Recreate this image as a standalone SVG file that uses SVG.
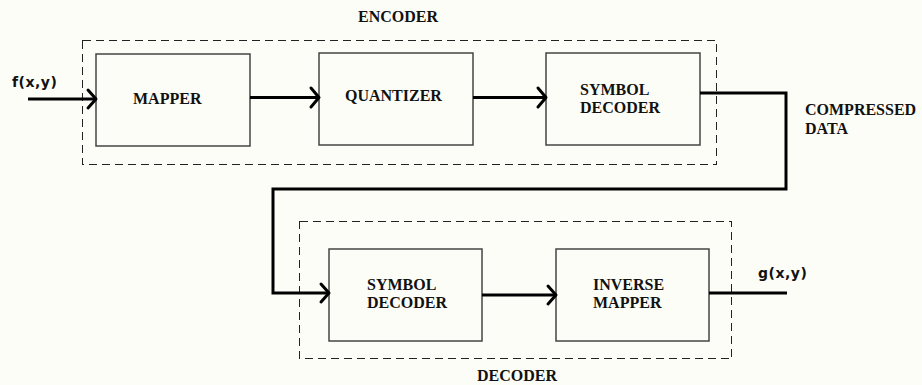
<svg xmlns="http://www.w3.org/2000/svg" width="922" height="385" viewBox="0 0 922 385">
<style>
.box{fill:none;stroke:#444;stroke-width:1.5}
.grp{fill:none;stroke:#222;stroke-width:1;stroke-dasharray:8 5;shape-rendering:crispEdges}
.wire{fill:none;stroke:#000;stroke-width:3}
.head{fill:none;stroke:#000;stroke-width:3;stroke-linecap:round;stroke-linejoin:round}
.lbl{font-family:"Liberation Serif","Times New Roman",serif;font-weight:bold;font-size:16px;fill:#111}
.sig{font-family:"DejaVu Sans",Verdana,sans-serif;font-weight:bold;font-size:14px;letter-spacing:0.5px;fill:#111}
</style>
<rect width="922" height="385" fill="#fdfdf8"/>
<g id="encoder">
<rect class="grp" x="82.5" y="40.5" width="634" height="124"/>
<text class="lbl" x="358" y="22">ENCODER</text>
</g>
<g id="decoder">
<rect class="grp" x="299.5" y="221.5" width="432" height="137"/>
<text class="lbl" x="477" y="381">DECODER</text>
</g>
<g id="mapper">
<rect class="box" x="96" y="54" width="154" height="92"/>
<text class="lbl" x="133" y="104">MAPPER</text>
</g>
<g id="quantizer">
<rect class="box" x="319" y="53" width="154" height="92"/>
<text class="lbl" x="345" y="101">QUANTIZER</text>
</g>
<g id="symbol-encoder">
<rect class="box" x="546" y="53" width="154" height="92"/>
<text class="lbl" x="580" y="95">SYMBOL</text>
<text class="lbl" x="580" y="113">DECODER</text>
</g>
<g id="symbol-decoder">
<rect class="box" x="329" y="249" width="153" height="92"/>
<text class="lbl" x="367" y="290">SYMBOL</text>
<text class="lbl" x="367" y="308">DECODER</text>
</g>
<g id="inverse-mapper">
<rect class="box" x="556" y="249" width="153" height="92"/>
<text class="lbl" x="593" y="290">INVERSE</text>
<text class="lbl" x="593" y="308">MAPPER</text>
</g>
<g id="labels">
<text class="sig" x="12" y="87">f(x,y)</text>
<text class="sig" x="758" y="278">g(x,y)</text>
<text class="lbl" x="805" y="115">COMPRESSED</text>
<text class="lbl" x="805" y="134">DATA</text>
</g>
<g id="connectors">
<line class="wire" x1="28" y1="99" x2="95" y2="99"/>
<polyline class="head" points="88,90 96,99 88,108"/>
<line class="wire" x1="250" y1="97.5" x2="318" y2="97.5"/>
<polyline class="head" points="311,88 319,97.5 311,107"/>
<line class="wire" x1="473" y1="97.5" x2="545" y2="97.5"/>
<polyline class="head" points="538,88 546,97.5 538,107"/>
<polyline class="wire" points="700,93 786,93 786,189 273,189 273,293 328,293"/>
<polyline class="head" points="321,284 329,293 321,302"/>
<line class="wire" x1="482" y1="295" x2="555" y2="295"/>
<polyline class="head" points="548,286 556,295 548,304"/>
<line class="wire" x1="709" y1="293" x2="787" y2="293"/>
</g>
</svg>
